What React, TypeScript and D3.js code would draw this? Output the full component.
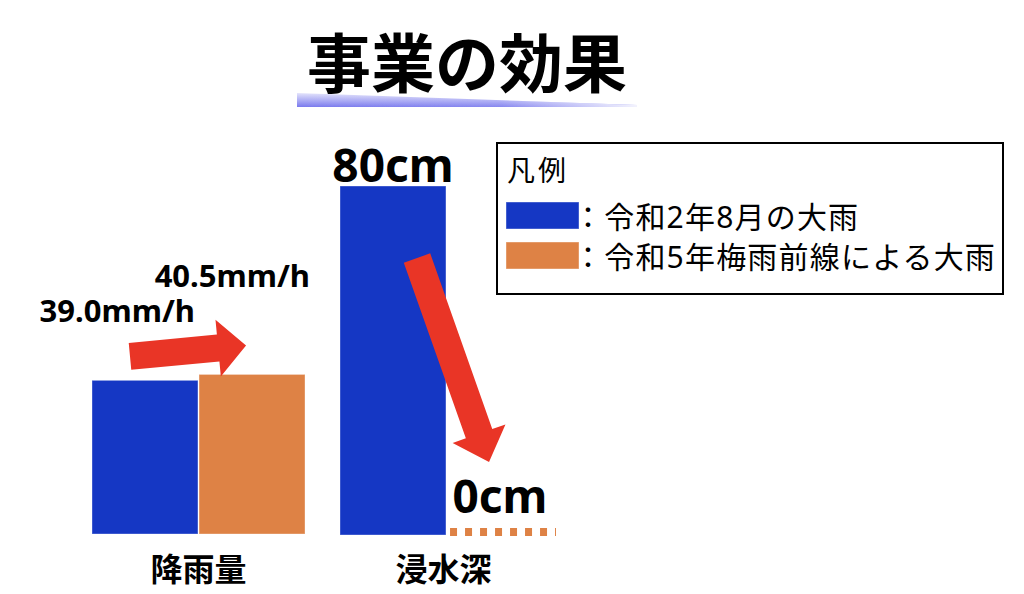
import React from "react";
import * as d3 from "d3";

// ---- data ----
const categories = ["降雨量", "浸水深"];
const seriesNames = ["令和2年8月の大雨", "令和5年梅雨前線による大雨"];
const seriesColors = ["#1537C4", "#DE8245"];
const rainfall = [39.0, 40.5]; // mm/h
const depth = [80, 0]; // cm
const rainUnit = "mm/h";
const depthUnit = "cm";
const title = "事業の効果";
const legendTitle = "凡例";

const W = 1024;
const H = 594;
const LATIN = '"Noto Sans", "Noto Sans CJK JP", sans-serif';
const CJK = '"Noto Sans CJK JP", "Noto Sans", sans-serif';
const RED = "#E93526";

function arrowPath(
  x0: number, y0: number, x1: number, y1: number,
  shaftW: number, headW: number, headL: number
) {
  const dx = x1 - x0, dy = y1 - y0;
  const len = Math.hypot(dx, dy);
  const ux = dx / len, uy = dy / len;
  const nx = -uy, ny = ux;
  const bx = x1 - ux * headL, by = y1 - uy * headL;
  const s = shaftW / 2, h = headW / 2;
  const pts: [number, number][] = [
    [x0 + nx * s, y0 + ny * s],
    [bx + nx * s, by + ny * s],
    [bx + nx * h, by + ny * h],
    [x1, y1],
    [bx - nx * h, by - ny * h],
    [bx - nx * s, by - ny * s],
    [x0 - nx * s, y0 - ny * s],
  ];
  return "M" + pts.map((p) => p.join(",")).join("L") + "Z";
}

export default function App() {
  const xOuter = d3.scaleBand<string>().domain(categories).range([92, 553]).paddingInner(35 / 248);
  const xInner = d3.scaleBand<string>().domain(seriesNames).range([0, xOuter.bandwidth()]).paddingInner(0.01);
  const yRain = d3.scaleLinear().domain([0, 50]).range([534, 337]);
  const yDepth = d3.scaleLinear().domain([0, 80]).range([535, 186]);

  const rainX = (i: number) => (xOuter(categories[0]) as number) + (xInner(seriesNames[i]) as number);
  const depthX = (i: number) => (xOuter(categories[1]) as number) + (xInner(seriesNames[i]) as number);
  const bw = xInner.bandwidth();

  // annotation arrows, anchored on the bars
  const a1 = arrowPath(rainX(0) + 38, yRain(rainfall[0]) - 24, rainX(1) + 47, yRain(rainfall[1]) - 29, 27, 57, 28);
  const a2 = arrowPath(depthX(0) + 77, yDepth(depth[0]) + 72, depthX(1) + 42, yDepth(0) - 73, 28, 56, 30);

  return (
    <svg width={W} height={H} style={{ position: "absolute", left: 0, top: 0, background: "#fff" }}>
      <defs>
        <linearGradient id="ulV" x1="0" y1="0" x2="0" y2="1">
          <stop offset="0" stopColor="#e4e4fb" />
          <stop offset="1" stopColor="#7a7aee" />
        </linearGradient>
        <linearGradient id="ulH" x1="0" y1="0" x2="1" y2="0">
          <stop offset="0" stopColor="#fff" stopOpacity={0} />
          <stop offset="0.6" stopColor="#fff" stopOpacity={0.1} />
          <stop offset="1" stopColor="#fff" stopOpacity={0.9} />
        </linearGradient>
      </defs>

      {/* title */}
      <path d="M297,93 L637,105 L637,107 L297,107 Z" fill="url(#ulV)" />
      <path d="M297,93 L637,105 L637,107 L297,107 Z" fill="url(#ulH)" />
      <text x={307} y={87} fontFamily={CJK} fontWeight={700} fontSize={64} fill="#000">{title}</text>

      {/* rainfall bars */}
      {rainfall.map((v, i) => (
        <rect key={"r" + i} x={rainX(i)} y={yRain(v)} width={bw} height={yRain(0) - yRain(v)}
          fill={seriesColors[i]} stroke="rgba(255,255,255,0.35)" strokeWidth={1} />
      ))}
      {/* depth bars */}
      {depth.map((v, i) =>
        v > 0 ? (
          <rect key={"d" + i} x={depthX(i)} y={yDepth(v)} width={bw} height={yDepth(0) - yDepth(v)}
            fill={seriesColors[i]} stroke="rgba(255,255,255,0.35)" strokeWidth={1} />
        ) : (
          <line key={"d" + i} x1={depthX(i) + 3} x2={depthX(i) + bw + 3} y1={yDepth(0) - 3} y2={yDepth(0) - 3}
            stroke={seriesColors[i]} strokeWidth={8} strokeDasharray="7 8" />
        )
      )}

      {/* arrows */}
      <path d={a1} fill={RED} />
      <path d={a2} fill={RED} />

      {/* value labels */}
      {rainfall.map((v, i) => (
        <text key={"rl" + i} x={rainX(i) + bw - 3 + i * 8} y={yRain(v) - 58 - i * 29} textAnchor="end"
          fontFamily={LATIN} fontWeight={700} fontSize={31} fill="#000">
          {d3.format(".1f")(v) + rainUnit}
        </text>
      ))}
      {depth.map((v, i) => (
        <text key={"dl" + i} x={depthX(i) + bw / 2} y={Math.min(yDepth(v) - 4, yDepth(0) - 22)}
          textAnchor="middle" fontFamily={LATIN} fontWeight={700} fontSize={46} fill="#000">
          {d3.format("d")(v) + depthUnit}
        </text>
      ))}

      {/* category labels */}
      {categories.map((c) => (
        <text key={c} x={(xOuter(c) as number) + xOuter.bandwidth() / 2 - (c === categories[1] ? 3 : 0)} y={581}
          textAnchor="middle" fontFamily={CJK} fontWeight={700} fontSize={32} fill="#000">
          {c}
        </text>
      ))}

      {/* legend */}
      <rect x={497} y={143} width={506} height={151} fill="#fff" stroke="#000" strokeWidth={2} />
      <text x={507} y={181} fontFamily={CJK} fontSize={28} letterSpacing={3} fill="#000">{legendTitle}</text>
      {seriesNames.map((s, i) => (
        <g key={s}>
          <rect x={506} y={202 + i * 40} width={73} height={27} fill={seriesColors[i]} stroke="rgba(255,255,255,0.4)" strokeWidth={1} />
          <text x={573} y={228 + i * 40} fontFamily={LATIN} fontSize={30} letterSpacing={1.2} fill="#000">{"：" + s}</text>
        </g>
      ))}
    </svg>
  );
}
